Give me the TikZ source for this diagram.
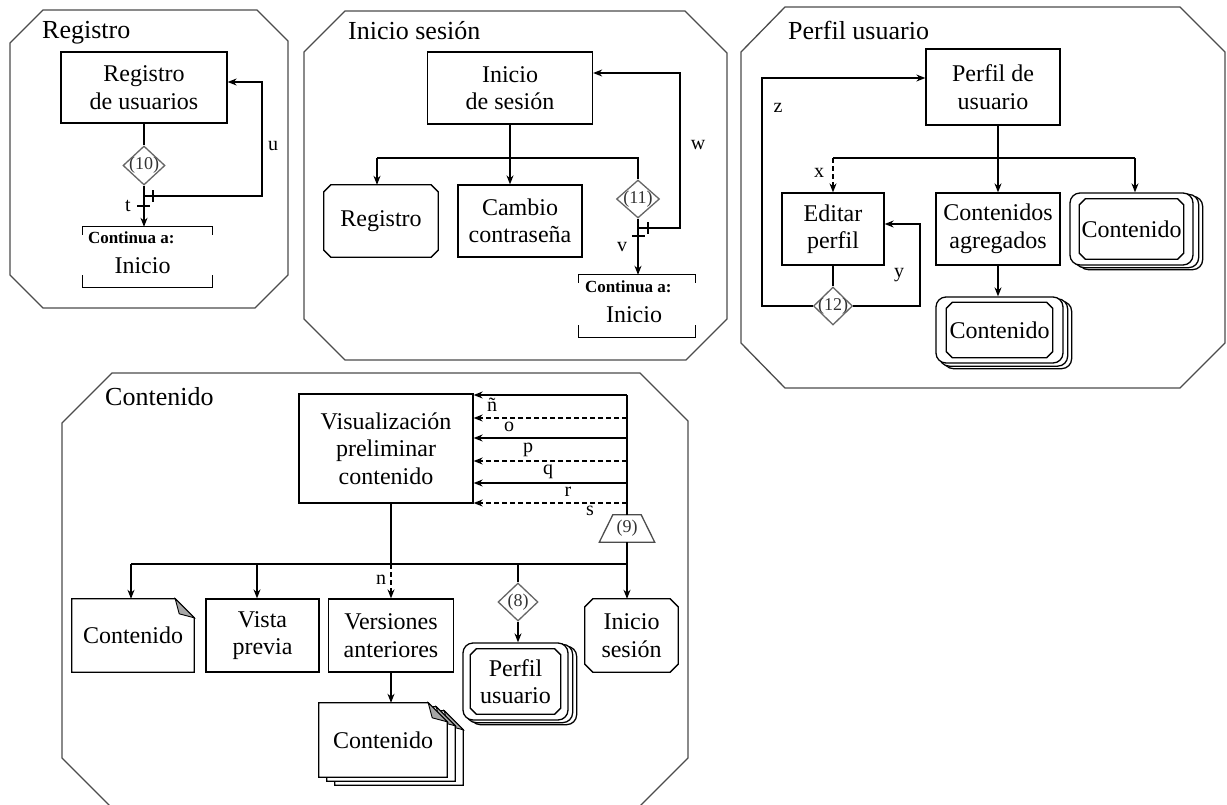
\documentclass[tikz,border=0pt]{standalone}
\usepackage{fontspec}
\setmainfont{Liberation Serif}
\usetikzlibrary{arrows.meta,shapes.geometric,calc}
\pgfdeclarelayer{bottom}
\pgfdeclarelayer{bg}
\pgfsetlayers{bottom,bg,main}

\newcommand\docpg[3]{%
  \draw[lw, fill=white] ($(#1.north west)+(#2,#3)$) -- ($(#1.north east)+(#2-19,#3)$)
    -- ($(#1.north east)+(#2,#3+19)$) -- ($(#1.south east)+(#2,#3)$)
    -- ($(#1.south west)+(#2,#3)$) -- cycle;
  \draw[line width=0.9pt, fill=black!35] ($(#1.north east)+(#2-19,#3)$)
    -- ($(#1.north east)+(#2,#3+19)$) -- ($(#1.north east)+(#2-15,#3+15)$) -- cycle;}
\newcommand\rndpg[3]{%
  \draw[lw, fill=white, rounded corners=10pt] ($(#1.north west)+(#2,#3)$) rectangle ($(#1.south east)+(#2,#3)$);}
\newcommand\brk[1]{%
  \draw[lw] ($(#1.north west)+(0,8)$) -- (#1.north west) -- (#1.north east) -- ++(0,8);
  \draw[lw] ($(#1.south west)+(0,-12)$) -- (#1.south west) -- (#1.south east) -- ++(0,-12);}
\newcommand\chf[2]{%
  \draw[lw] ($(#1.north west)+(#2,0)$) -- ($(#1.north east)+(-#2,0)$) -- ($(#1.north east)+(0,#2)$)
    -- ($(#1.south east)+(0,-#2)$) -- ($(#1.south east)+(-#2,0)$) -- ($(#1.south west)+(#2,0)$)
    -- ($(#1.south west)+(0,-#2)$) -- ($(#1.north west)+(0,#2)$) -- cycle;}

\tikzset{
  lw/.style={line width=1.3pt},
  arr/.style={lw, -{Stealth[length=9pt,width=7pt]}},
  dsh/.style={dash pattern=on 5pt off 3pt},
  panel/.style={draw=black!70, line width=1.3pt},
  ptitle/.style={anchor=base west, inner sep=0, font=\fontsize{26}{30}\selectfont},
  box/.style={draw, lw, fill=white, align=center, inner sep=0, font=\fontsize{24}{27.5}\selectfont},
  txt/.style={align=center, inner sep=0, font=\fontsize{24}{27.5}\selectfont},
  rbox/.style={draw, lw, fill=white, rounded corners=10pt, inner sep=0},
  dia/.style={diamond, draw=black!60, lw, inner sep=0, fill=white},
  dlbl/.style={inner sep=0, text=black!80, font=\fontsize{18}{21}\selectfont},
  lbl/.style={inner sep=0, font=\fontsize{20}{24}\selectfont},
  conta/.style={anchor=west, inner sep=0, font=\bfseries\fontsize{17}{20}\selectfont},
}

\begin{document}
\begin{tikzpicture}[x=1pt,y=-1pt]
\useasboundingbox (0,0) rectangle (1227,804);
\begin{pgfonlayer}{bottom}
\fill[white] (0,0) rectangle (1227,804);
\end{pgfonlayer}

% ---------------- Registro ----------------
\draw[panel] (43,10) -- (257,10) -- (288,41) -- (288,275) -- (255,308) -- (43,308) -- (10,275) -- (10,43) -- cycle;
\node[ptitle] (tReg) at (42,38) {Registro};
\node[box, minimum width=166, minimum height=71] (reg) at (144,87.5) {Registro\\de usuarios};
\node[dia, minimum width=42, minimum height=39, label={[dlbl]center:(10)}] (d10) at (144,165.5) {};
\node[inner sep=0, minimum width=129, minimum height=60] (c1) at (147.5,257) {};
\brk{c1}
\node[conta] (c1a) at ($(c1.north west)+(5,10.5)$) {Continua a:};
\node[txt] (c1b) at ($(c1.center)+(-5,9)$) {Inicio};
\draw[lw] (reg.south) -- (d10.north);
\draw[arr] (d10.south) -- (d10.south |- c1.north);
\coordinate (u1) at (262,196); \coordinate (u2) at (262,82);
\draw[arr] (d10.south |- u1) -- (u1) -- (u2) -- (reg.east |- u2);
\draw[lw] (153,190) -- (153,202);
\draw[lw] (137,206) -- (150,206);
\node[lbl] (lt) at (128,206) {t};
\node[lbl] (lu) at (273,146) {u};

% ---------------- Inicio sesion ----------------
\draw[panel] (345,11) -- (685,11) -- (727,53) -- (727,319) -- (686,360) -- (345,360) -- (304,319) -- (304,52) -- cycle;
\node[ptitle] (tIni) at (348,39) {Inicio sesión};
\node[box, minimum width=165, minimum height=72] (ini) at (510,88) {Inicio\\de sesión};
\node[txt, minimum width=114, minimum height=72] (reg2) at (381,221) {Registro};
\chf{reg2}{7}
\node[box, minimum width=124, minimum height=72] (cam) at (520,221) {Cambio\\contraseña};
\node[dia, minimum width=43, minimum height=38, label={[dlbl]center:(11)}] (d11) at (638,199) {};
\node[inner sep=0, minimum width=116, minimum height=62] (c2) at (637,306) {};
\brk{c2}
\node[conta] (c2a) at ($(c2.north west)+(6,12)$) {Continua a:};
\node[txt] (c2b) at ($(c2.center)+(-3,9)$) {Inicio};
\coordinate (b1) at (377,158); \coordinate (b2) at (638,158);
\draw[arr] (ini.south) -- (ini.south |- cam.north);
\draw[lw] (b1) -- (b2) -- (d11.north);
\draw[arr] (b1) -- (b1 |- reg2.north);
\draw[arr] (d11.south) -- (d11.south |- c2.north);
\coordinate (w1) at (680,228); \coordinate (w2) at (680,73);
\draw[arr] (d11.south |- w1) -- (w1) -- (w2) -- (ini.east |- w2);
\draw[lw] (648,222) -- (648,234);
\draw[lw] (632,236) -- (645,236);
\node[lbl] (lv) at (622,247) {v};
\node[lbl] (lw) at (698,145) {w};

% ---------------- Perfil usuario ----------------
\draw[panel] (785,7) -- (1180,7) -- (1225,52) -- (1225,343) -- (1180,388) -- (785,388) -- (741,343) -- (741,52) -- cycle;
\node[ptitle] (tPer) at (788,39) {Perfil usuario};
\node[box, minimum width=134, minimum height=76] (pf) at (993,87) {Perfil de\\usuario};
\node[box, minimum width=102, minimum height=72] (ed) at (833,229) {Editar\\perfil};
\node[box, minimum width=124, minimum height=72] (ca) at (998,229) {Contenidos\\agregados};
\node[rbox, minimum width=123, minimum height=72] (st1) at (1131.5,229) {};
\node[txt, minimum width=104, minimum height=60] (st1i) at (st1.center) {Contenido};
\chf{st1i}{6}
\node[rbox, minimum width=127, minimum height=66] (st2) at (999.5,330) {};
\node[txt, minimum width=106, minimum height=55] (st2i) at (st2.center) {Contenido};
\chf{st2i}{6}
\begin{pgfonlayer}{bg}
\rndpg{st1}{9}{4}\rndpg{st1}{5}{2}
\rndpg{st2}{8}{5}\rndpg{st2}{4}{2.5}
\end{pgfonlayer}
\node[dia, minimum width=39, minimum height=38, label={[dlbl]center:(12)}] (d12) at (833,306) {};
\draw[arr] (ca.north |- pf.south) -- (ca.north);
\coordinate (x1) at (833,158); \coordinate (x2) at (1135,158);
\draw[lw] (x1) -- (x2);
\draw[arr, dsh] (x1) -- (x1 |- ed.north);
\draw[arr] (x2) -- (x2 |- st1.north);
\draw[arr] (ca.south) -- (ca.south |- st2.north);
\draw[lw] (ed.south) -- (d12.north);
\coordinate (z1) at (762,306); \coordinate (z2) at (762,78);
\draw[arr] (d12.west) -- (z1) -- (z2) -- (pf.west |- z2);
\coordinate (y1) at (920,306); \coordinate (y2) at (920,224);
\draw[arr] (d12.east) -- (y1) -- (y2) -- (ed.east |- y2);
\node[lbl] (lz) at (778,108) {z};
\node[lbl] (lx) at (819,173) {x};
\node[lbl] (ly) at (899,275) {y};

% ---------------- Contenido ----------------
\draw[panel] (112,808) -- (62,758) -- (62,423) -- (112,373) -- (640,373) -- (688,421) -- (688,758) -- (638,808);
\node[ptitle] (tCon) at (105,405) {Contenido};
\node[box, minimum width=174, minimum height=109] (vis) at (386,448.5) {Visualización\\preliminar\\contenido};
\foreach \yy/\st in {395/solid,418/dsh,438/solid,461/dsh,483/solid,503/dsh}{
  \coordinate (aa) at (627,\yy);
  \draw[arr,\st] (aa) -- (vis.east |- aa);
}
\node[dlbl, minimum width=55, minimum height=27] (t9) at (627,528.5) {(9)};
\draw[draw=black!70, lw] (t9.south west) -- (t9.south east)
   -- ($(t9.north east)+(-13.5,0)$) -- ($(t9.north west)+(13.5,0)$) -- cycle;
\coordinate (vt) at (627,395);
\draw[lw] (vt) -- (t9.north);
\node[lbl] (ln1) at (492,405) {ñ};
\node[lbl] (ln2) at (509,427) {o};
\node[lbl] (ln3) at (528,450) {p};
\node[lbl] (ln4) at (548,472) {q};
\node[lbl] (ln5) at (568,492) {r};
\node[lbl] (ln6) at (590,511) {s};

\node[txt, minimum width=122, minimum height=73] (cdoc) at (133,635.5) {Contenido};
\node[box, minimum width=113, minimum height=73] (vista) at (262.5,635.5) {Vista\\previa};
\node[box, minimum width=125, minimum height=73] (vers) at (391,635.5) {Versiones\\anteriores};
\node[dia, minimum width=40, minimum height=38, label={[dlbl]center:(8)}] (d8) at (518,602) {};
\node[rbox, minimum width=105, minimum height=77] (pst) at (515.5,681.5) {};
\node[txt, minimum width=90, minimum height=65] (psti) at (pst.center) {Perfil\\usuario};
\chf{psti}{6}
\node[txt, minimum width=93, minimum height=73] (ises) at (631.5,635.5) {Inicio\\sesión};
\chf{ises}{8}
\node[txt, minimum width=128, minimum height=74] (cst) at (383,740) {Contenido};
\begin{pgfonlayer}{bg}
\docpg{cdoc}{0}{0}
\docpg{cst}{16}{8}\docpg{cst}{8}{4}\docpg{cst}{0}{0}
\rndpg{pst}{8}{4}\rndpg{pst}{4}{2}
\end{pgfonlayer}

\coordinate (h1) at (131,564); \coordinate (h2) at (627,564);
\coordinate (h3) at (257,564); \coordinate (h4) at (391,564); \coordinate (h5) at (518,564);
\draw[lw] (t9.south) -- (h2) -- (h1);
\draw[arr] (h1) -- (h1 |- cdoc.north);
\draw[arr] (h3) -- (h3 |- vista.north);
\draw[lw] (vis.south -| h4) -- (h4);
\draw[arr, dsh] (h4) -- (h4 |- vers.north);
\draw[lw] (h5) -- (d8.north);
\draw[arr] (d8.south) -- (d8.south |- pst.north);
\draw[arr] (h2) -- (h2 |- ises.north);
\draw[arr] (vers.south) -- (vers.south |- cst.north);
\node[lbl] (ln) at (381,580) {n};
\end{tikzpicture}
\end{document}
